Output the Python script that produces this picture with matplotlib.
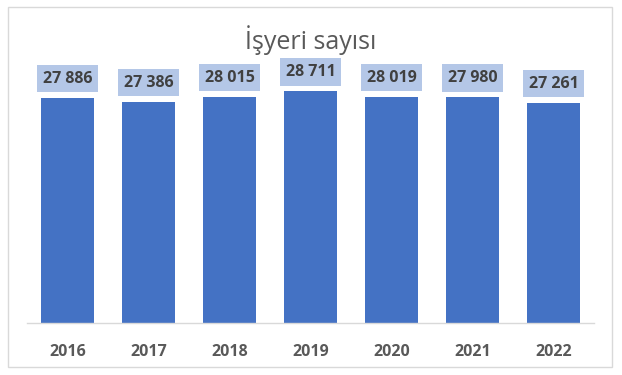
import matplotlib.pyplot as plt
from matplotlib.patches import Rectangle

years = ['2016', '2017', '2018', '2019', '2020', '2021', '2022']
counts = [27886, 27386, 28015, 28711, 28019, 27980, 27261]

bar_color = '#4472C4'
label_bg = '#B4C7E7'

plt.rcParams['font.family'] = ['Open Sans', 'DejaVu Sans']

fig = plt.figure(figsize=(6.22, 3.75), dpi=100)
ax = fig.add_axes([27 / 622, 1 - 323 / 375, (594 - 27) / 622, (323 - 80.6) / 375])

x = range(len(years))
ax.bar(x, counts, width=0.66, color=bar_color, zorder=2)
ax.set_xlim(-0.5, len(years) - 0.5)
ax.set_ylim(0, 30000)

for i, v in enumerate(counts):
    ax.annotate(f"{v:,}".replace(",", " "), (i, v), xytext=(0, 19),
                textcoords='offset pixels', ha='center', va='center',
                fontsize=11.5, fontweight='bold', color='#404040',
                bbox=dict(boxstyle='square,pad=0.36', fc=label_bg, ec='none'),
                annotation_clip=False)

ax.set_xticks(list(x))
ax.set_xticklabels(years, fontsize=11.5, fontweight='bold', color='#595959')
ax.tick_params(axis='x', length=0, pad=15)
ax.set_yticks([])
for side in ['top', 'left', 'right']:
    ax.spines[side].set_visible(False)
ax.spines['bottom'].set_color('#D9D9D9')
ax.spines['bottom'].set_linewidth(1)

fig.text(0.5, 1 - 40 / 375, 'İşyeri sayısı', ha='center', va='center',
         fontsize=18, color='#595959')

fig.patches.append(Rectangle((8 / 622, 1 - 367 / 375), 604 / 622, 360 / 375,
                             transform=fig.transFigure, fill=False,
                             ec='#D9D9D9', lw=1))

fig.savefig('out.png', dpi=100)
